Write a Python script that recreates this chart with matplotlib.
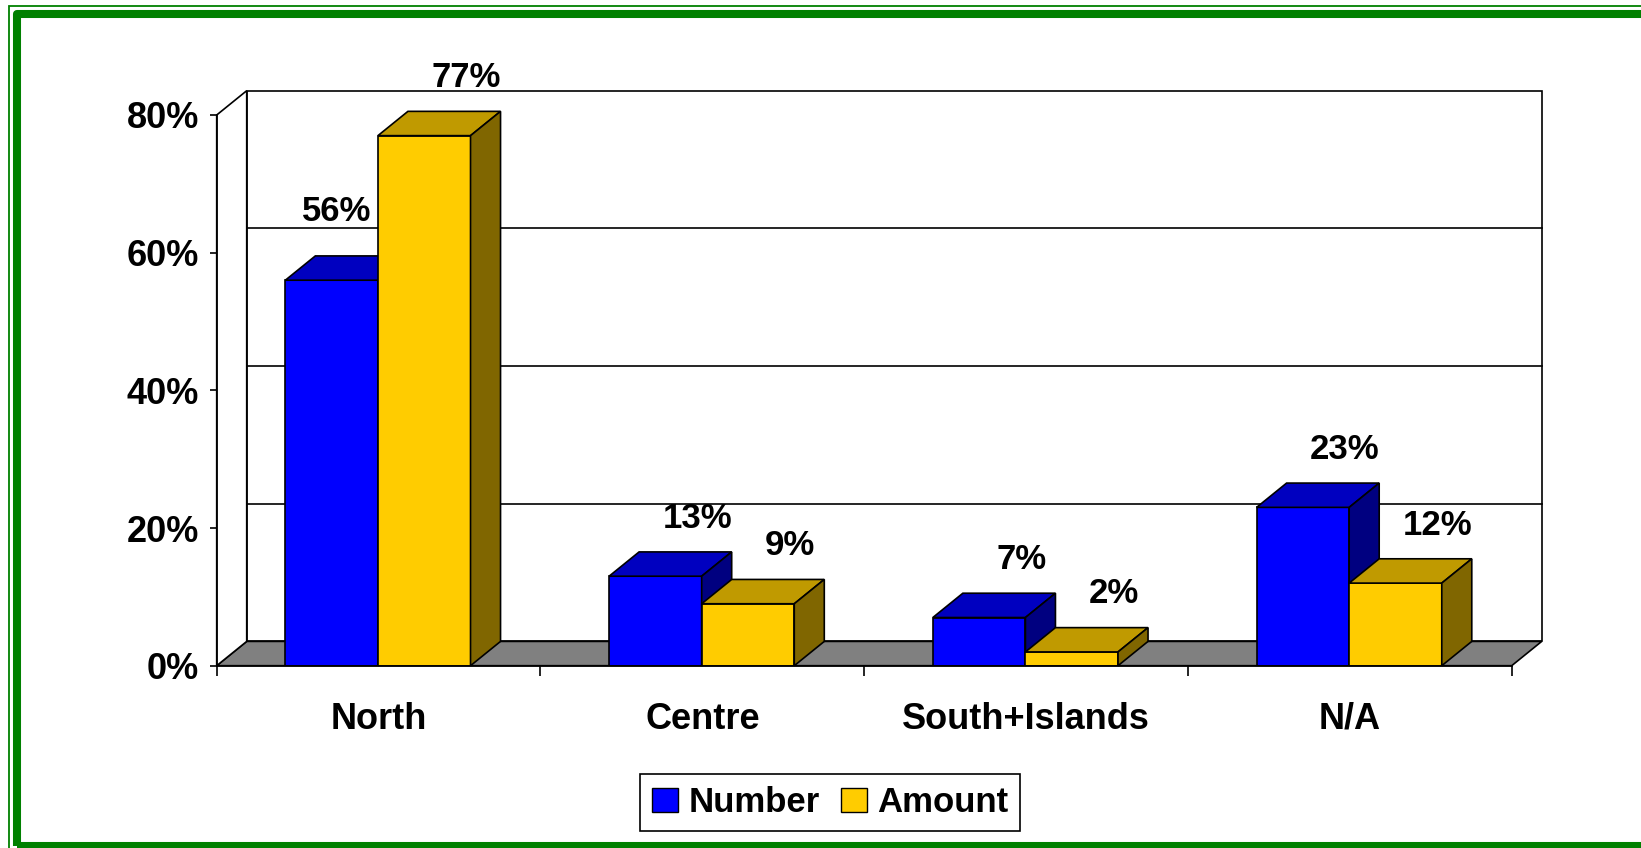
"""
Regional split: share of number vs amount, Excel-style 3D column chart
(front faces with ax.bar, top/side faces as polygons offset by a fixed depth).
"""
import matplotlib
matplotlib.use("Agg")
import matplotlib.pyplot as plt
from matplotlib.patches import Polygon, Rectangle, Patch

# ---------------------------------------------------------------- data
CATEGORIES = ["North", "Centre", "South+Islands", "N/A"]
NUMBER = [56, 13, 7, 23]          # %
AMOUNT = [77, 9, 2, 12]           # %
SERIES_NAMES = ["Number", "Amount"]
Y_TICKS = [0, 20, 40, 60, 80]
Y_TICK_LABELS = ["0%", "20%", "40%", "60%", "80%"]

# ---------------------------------------------------------------- style
W, H, DPI = 1641, 848, 100
FONT = "Liberation Sans"
FACE = {  # front, top, side
    "Number": ("#0000FF", "#0000C0", "#000080"),
    "Amount": ("#FFCC00", "#C09A00", "#806600"),
}
GREEN = "#008000"
FLOOR = "#808080"
BAR_W = 0.286          # in category units
BAR_GAP = 0.212        # left margin inside a category
DX, DY = 0.0927, 3.53  # 3D depth (category units, %)
EDGE_LW = 1.2
LABEL_OFF = (42, 58)   # pixels from front-top centre of a bar
LABEL_NUDGE = {("North", "Number"): (-37, 11)}


def draw_box(ax, x0, w, h, colors):
    front, top, side = colors
    ax.bar(x0, h, width=w, align="edge", color=front, edgecolor="black",
           linewidth=EDGE_LW, zorder=3)
    top_pts = [(x0, h), (x0 + w, h), (x0 + w + DX, h + DY), (x0 + DX, h + DY)]
    side_pts = [(x0 + w, 0), (x0 + w, h), (x0 + w + DX, h + DY), (x0 + w + DX, DY)]
    for pts, c in ((top_pts, top), (side_pts, side)):
        ax.add_patch(Polygon(pts, closed=True, facecolor=c, edgecolor="black",
                             linewidth=EDGE_LW, joinstyle="miter", zorder=3,
                             clip_on=False))


def main():
    plt.rcParams["font.family"] = [FONT, "DejaVu Sans"]
    fig = plt.figure(figsize=(W / DPI, H / DPI), dpi=DPI)
    ax = fig.add_axes([216.7 / W, 1 - 665.7 / H, 1295 / W, 550.7 / H])
    n = len(CATEGORIES)
    ax.set_xlim(0, n)
    ax.set_ylim(0, Y_TICKS[-1])

    # back wall + gridlines
    ax.add_patch(Rectangle((DX, DY), n, Y_TICKS[-1], facecolor="white",
                           edgecolor="black", linewidth=EDGE_LW, zorder=1,
                           clip_on=False))
    for t in Y_TICKS[1:-1]:
        ax.plot([DX, n + DX], [t + DY, t + DY], color="black", lw=EDGE_LW,
                zorder=1, clip_on=False)
    # floor
    ax.add_patch(Polygon([(0, 0), (n, 0), (n + DX, DY), (DX, DY)], closed=True,
                         facecolor=FLOOR, edgecolor="black", linewidth=EDGE_LW,
                         zorder=2, clip_on=False))
    # left side wall
    ax.add_patch(Polygon([(0, 0), (0, Y_TICKS[-1]), (DX, Y_TICKS[-1] + DY), (DX, DY)],
                         closed=True, facecolor="white", edgecolor="black",
                         linewidth=EDGE_LW, zorder=2, clip_on=False))

    # bars, left to right so the right bar hides the left bar's side face
    for i, cat in enumerate(CATEGORIES):
        for j, (name, vals) in enumerate(zip(SERIES_NAMES, (NUMBER, AMOUNT))):
            x0 = i + BAR_GAP + j * BAR_W
            draw_box(ax, x0, BAR_W, vals[i], FACE[name])
            dx, dy = LABEL_OFF
            nx, ny = LABEL_NUDGE.get((cat, name), (0, 0))
            ax.annotate(f"{vals[i]}%", (x0 + BAR_W / 2, vals[i]),
                        xytext=(dx + nx, dy + ny), textcoords="offset pixels",
                        ha="center", va="center", fontsize=25,
                        fontweight="bold", zorder=5, annotation_clip=False)

    # axes cosmetics
    for s in ("top", "right"):
        ax.spines[s].set_visible(False)
    for s in ("left", "bottom"):
        ax.spines[s].set_linewidth(EDGE_LW)
        ax.spines[s].set_zorder(4)
    ax.patch.set_visible(False)
    ax.set_yticks(Y_TICKS, Y_TICK_LABELS)
    ax.tick_params(axis="y", direction="out", length=5, width=EDGE_LW, pad=7.5,
                   labelsize=26)
    ax.set_xticks(range(n + 1), [""] * (n + 1))
    ax.tick_params(axis="x", which="major", direction="out", length=7, width=EDGE_LW)
    ax.set_xticks([i + 0.5 for i in range(n)], CATEGORIES, minor=True)
    ax.tick_params(axis="x", which="minor", length=0, pad=26, labelsize=26)
    for lab in ax.get_yticklabels() + ax.get_xticklabels(minor=True):
        lab.set_fontweight("bold")

    # legend
    handles = [Patch(facecolor=FACE[s][0], edgecolor="black", linewidth=1.0)
               for s in SERIES_NAMES]
    leg = fig.legend(handles, SERIES_NAMES, loc="center",
                     bbox_to_anchor=(830.2 / W, 1 - 802.5 / H), ncol=2,
                     prop={"size": 25, "weight": "bold"}, frameon=True,
                     fancybox=False, edgecolor="black", framealpha=1,
                     handlelength=0.75, handleheight=0.66, handletextpad=0.3,
                     columnspacing=0.6, borderpad=0.35, borderaxespad=0)
    leg.get_frame().set_linewidth(1.2)

    # green double border (runs off the right and bottom edges)
    fig.patches.append(Rectangle((9, -20), W + 40, 842.5 + 20, transform=None,
                                 fill=False, edgecolor=GREEN, linewidth=1.3))
    fig.patches.append(Rectangle((17, 2), W + 40, 832, transform=None,
                                 fill=False, edgecolor=GREEN, linewidth=5.8,
                                 joinstyle="round"))

    fig.savefig("out.png", dpi=DPI)
    plt.close(fig)


if __name__ == "__main__":
    main()
